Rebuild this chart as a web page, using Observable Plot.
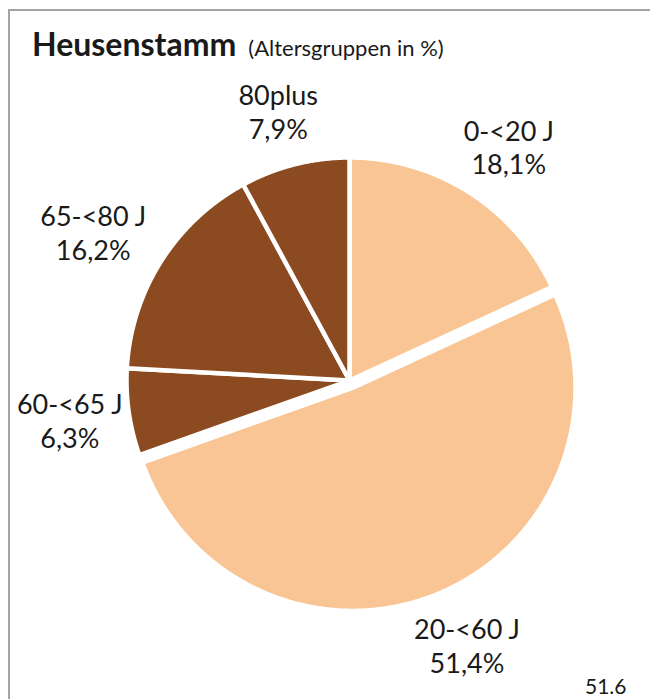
<!DOCTYPE html>
<html><head><meta charset="utf-8">
<script src="https://cdn.jsdelivr.net/npm/d3@7"></script>
<script src="https://cdn.jsdelivr.net/npm/@observablehq/plot@0.6"></script>
<style>
html,body{margin:0;padding:0;background:#fff;overflow:hidden}
#wrap{position:relative;width:650px;height:699px;overflow:hidden;font-family:Lato,"Open Sans",sans-serif;color:#1a1a1a}
#chart{position:absolute;left:0;top:0}
#border{position:absolute;left:8px;top:9px;width:700px;height:750px;border-left:2px solid #a3a3a3;border-top:2px solid #a3a3a3}
#title{position:absolute;left:32px;top:28px;white-space:nowrap;line-height:1}
#title b{font-size:32px;font-weight:700}
#title span{font-size:22px;margin-left:12px}
#note{position:absolute;left:585px;top:675px;font-size:21px;line-height:1}
</style></head>
<body>
<div id="wrap"><div id="chart"></div><div id="border"></div>
<div id="title"><b id="t1"></b><span id="t2"></span></div>
<div id="note"></div></div>
<script>
// ---- data ----
const titleMain = "Heusenstamm";
const titleSub = "(Altersgruppen in %)";
const categories = ["0-<20 J", "20-<60 J", "60-<65 J", "65-<80 J", "80plus"];
const values = [18.1, 51.4, 6.3, 16.2, 7.9];
const sliceColors = ["#f9c594", "#f9c594", "#8b4a20", "#8b4a20", "#8b4a20"];
const explodedCategory = "20-<60 J";
const noteText = "51.6";

document.getElementById("t1").textContent = titleMain;
document.getElementById("t2").textContent = titleSub;
document.getElementById("note").textContent = noteText;

// ---- layout ----
const W = 650, H = 699;
const pxPerUnit = 223;          // pie radius in px
const cxPx = 349, cyPx = 380;   // pie centre in px
const explode = 8 / pxPerUnit;
const labelGap = 250 / pxPerUnit;
const fontSize = 27;
const edgePad = 16;             // keep labels inside the frame

const data = categories.map((c, i) => ({category: c, value: values[i]}));
const arcs = d3.pie().sort(null).value(d => d.value)(data);

const points = [];
const labels = [];
const ctx = document.createElement("canvas").getContext("2d");
ctx.font = `${fontSize}px Lato`;
arcs.forEach(a => {
  const cat = a.data.category;
  const mid = (a.startAngle + a.endAngle) / 2;
  const off = cat === explodedCategory ? explode : 0;
  const ox = off * Math.sin(mid), oy = off * Math.cos(mid);
  points.push({category: cat, x: ox, y: oy});
  const n = Math.max(4, Math.ceil((a.endAngle - a.startAngle) / 0.005));
  for (let k = 0; k <= n; k++) {
    const t = a.startAngle + (a.endAngle - a.startAngle) * k / n;
    points.push({category: cat, x: ox + Math.sin(t), y: oy + Math.cos(t)});
  }
  points.push({category: cat, x: ox, y: oy});
  const pct = a.data.value.toFixed(1).replace(".", ",") + "%";
  const w = Math.max(ctx.measureText(cat).width, ctx.measureText(pct).width);
  const hw = w / 2 / pxPerUnit, hh = 27.5 / pxPerUnit;
  const r = labelGap + off;
  let lx = r * Math.sin(mid) + Math.sin(mid) * hw;
  const ly = r * Math.cos(mid) + Math.cos(mid) * hh;
  const minX = (-cxPx + w / 2 + edgePad) / pxPerUnit;
  const maxX = (W - cxPx - w / 2 - edgePad) / pxPerUnit;
  lx = Math.min(maxX, Math.max(minX, lx));
  labels.push({text: cat + "\n" + pct, x: lx, y: ly});
});

const chart = Plot.plot({
  width: W, height: H, margin: 0,
  style: {background: "transparent", fontFamily: "Lato, 'Open Sans', sans-serif"},
  x: {domain: [-cxPx / pxPerUnit, (W - cxPx) / pxPerUnit], axis: null},
  y: {domain: [-(H - cyPx) / pxPerUnit, cyPx / pxPerUnit], axis: null},
  color: {domain: categories, range: sliceColors},
  marks: [
    Plot.line(points, {x: "x", y: "y", z: "category", fill: "category",
      stroke: "white", strokeWidth: 4.5, strokeLinejoin: "round", curve: "linear"}),
    Plot.text(labels, {x: "x", y: "y", text: "text", fontSize: fontSize,
      lineHeight: 1.25, lineAnchor: "middle", textAnchor: "middle", fill: "#1a1a1a"})
  ]
});
document.getElementById("chart").appendChild(chart);
</script>
</body></html>
